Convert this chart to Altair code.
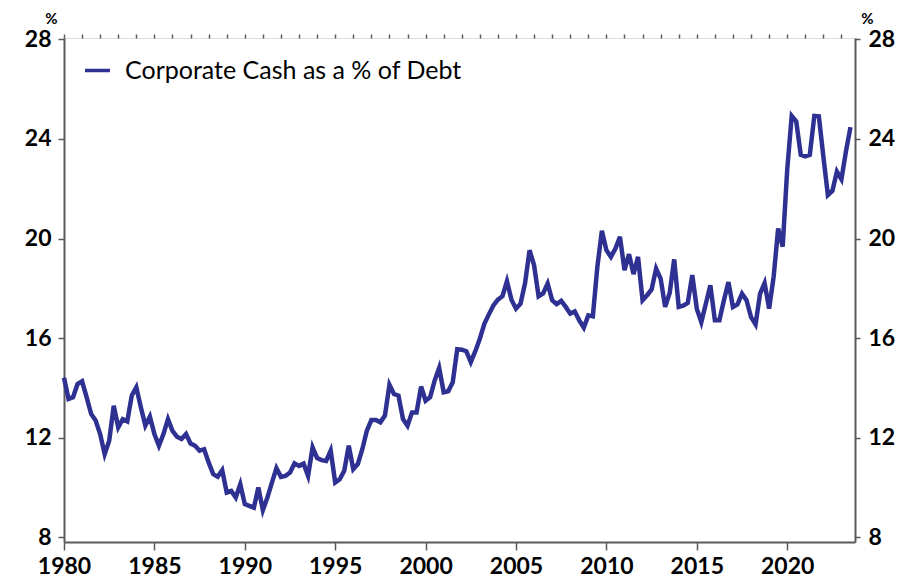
import altair as alt
import pandas as pd

series_name = "Corporate Cash as a % of Debt"
start_year = 1980
# quarterly values (Q1..Q4) per year
values_by_year = {
    1980: [14.40, 13.55, 13.62, 14.15],
    1981: [14.26, 13.62, 12.95, 12.68],
    1982: [12.14, 11.33, 11.87, 13.28],
    1983: [12.41, 12.74, 12.65, 13.69],
    1984: [14.02, 13.22, 12.48, 12.84],
    1985: [12.14, 11.67, 12.14, 12.74],
    1986: [12.27, 12.03, 11.94, 12.14],
    1987: [11.76, 11.67, 11.47, 11.53],
    1988: [11.00, 10.53, 10.42, 10.69],
    1989: [9.79, 9.85, 9.59, 10.12],
    1990: [9.32, 9.25, 9.18, 9.99],
    1991: [9.08, 9.59, 10.19, 10.77],
    1992: [10.42, 10.46, 10.59, 10.96],
    1993: [10.86, 10.95, 10.46, 11.60],
    1994: [11.17, 11.09, 11.06, 11.47],
    1995: [10.19, 10.32, 10.66, 11.67],
    1996: [10.73, 10.93, 11.53, 12.27],
    1997: [12.70, 12.70, 12.61, 12.88],
    1998: [14.12, 13.75, 13.68, 12.74],
    1999: [12.47, 13.01, 13.01, 14.05],
    2000: [13.48, 13.62, 14.29, 14.80],
    2001: [13.82, 13.86, 14.22, 15.55],
    2002: [15.53, 15.47, 15.03, 15.47],
    2003: [15.97, 16.57, 16.95, 17.31],
    2004: [17.54, 17.68, 18.28, 17.54],
    2005: [17.18, 17.38, 18.20, 19.53],
    2006: [18.93, 17.68, 17.79, 18.19],
    2007: [17.52, 17.36, 17.49, 17.25],
    2008: [16.98, 17.07, 16.71, 16.42],
    2009: [16.91, 16.87, 18.86, 20.31],
    2010: [19.53, 19.26, 19.60, 20.07],
    2011: [18.73, 19.37, 18.57, 19.26],
    2012: [17.52, 17.72, 17.95, 18.79],
    2013: [18.39, 17.25, 17.81, 19.16],
    2014: [17.25, 17.30, 17.41, 18.53],
    2015: [17.18, 16.64, 17.38, 18.12],
    2016: [16.71, 16.71, 17.52, 18.25],
    2017: [17.25, 17.35, 17.78, 17.52],
    2018: [16.84, 16.55, 17.78, 18.21],
    2019: [17.18, 18.46, 20.40, 19.67],
    2020: [22.76, 24.93, 24.71, 23.36],
    2021: [23.30, 23.36, 24.93, 24.91],
    2022: [23.30, 21.75, 21.92, 22.69],
    2023: [22.38, 23.50, 24.48],
}
major_years = [1980, 1985, 1990, 1995, 2000, 2005, 2010, 2015, 2020]
minor_years = list(range(1980, 2024))
y_ticks = [8, 12, 16, 20, 24, 28]

rows = []
for yr, vals in values_by_year.items():
    for q, v in enumerate(vals):
        rows.append({"t": yr + q * 0.25, "v": v, "series": series_name})
df = pd.DataFrame(rows)

LINE = "#2E3192"
GREY = "#595959"
FONT = "Lato"

xscale = alt.Scale(domain=[1980, 2023.75], nice=False, zero=False)
yscale = alt.Scale(domain=[7.8, 28.06], nice=False, zero=False)

base = alt.Chart(df)

main = base.mark_line(strokeWidth=4.5, color=LINE).encode(
    x=alt.X("t:Q", scale=xscale, axis=alt.Axis(
        values=major_years, format="d", title=None, grid=False,
        tickSize=8, tickWidth=1.5, tickColor=GREY,
        domainColor=GREY, domainWidth=2,
        labelFont=FONT, labelFontSize=23, labelFontWeight="bold",
        labelColor="black", labelPadding=5, labelFlush=False)),
    y=alt.Y("v:Q", scale=yscale, axis=alt.Axis(
        values=y_ticks, title="%", titleAngle=0, titleX=-13, titleY=-15,
        titleAlign="center", titleBaseline="alphabetic",
        titleFont=FONT, titleFontSize=15, titleFontWeight="bold", titleColor="black",
        grid=False, tickSize=6, tickWidth=1.5, tickColor=GREY,
        domainColor=GREY, domainWidth=2,
        labelFont=FONT, labelFontSize=23, labelFontWeight="bold",
        labelColor="black", labelPadding=7)),
    color=alt.Color("series:N", scale=alt.Scale(domain=[series_name], range=[LINE]),
                    legend=alt.Legend(
                        title=None, orient="none", legendX=19, legendY=18,
                        symbolType="stroke", symbolSize=625, symbolStrokeWidth=3.5,
                        symbolStrokeColor=LINE, labelOffset=13, padding=0,
                        labelFont=FONT, labelFontSize=25, labelColor="black",
                        labelLimit=600)),
)

second = base.mark_line(strokeOpacity=0).encode(
    x=alt.X("t:Q", scale=xscale, axis=alt.Axis(
        values=minor_years, labels=False, title=None, grid=False, domain=False,
        tickSize=4, tickWidth=1.5, tickColor=GREY)),
    y=alt.Y("v:Q", scale=yscale, axis=alt.Axis(
        orient="right", values=y_ticks, title="%", titleAngle=0, titleX=12, titleY=-15,
        titleAlign="center", titleBaseline="alphabetic",
        titleFont=FONT, titleFontSize=15, titleFontWeight="bold", titleColor="black",
        grid=False, tickSize=5, tickWidth=1.5, tickColor=GREY,
        domainColor=GREY, domainWidth=2,
        labelFont=FONT, labelFontSize=23, labelFontWeight="bold",
        labelColor="black", labelPadding=8)),
)

chart = alt.layer(main, second).resolve_scale(x="independent", y="independent").properties(
    width=791, height=504,
    autosize=alt.AutoSizeParams(type="none"),
    padding={"left": 56, "top": 30, "right": 50, "bottom": 36},
).configure_view(stroke=None).configure(background="white")

chart.save("out.html", embed_options={"renderer": "svg", "actions": False})
